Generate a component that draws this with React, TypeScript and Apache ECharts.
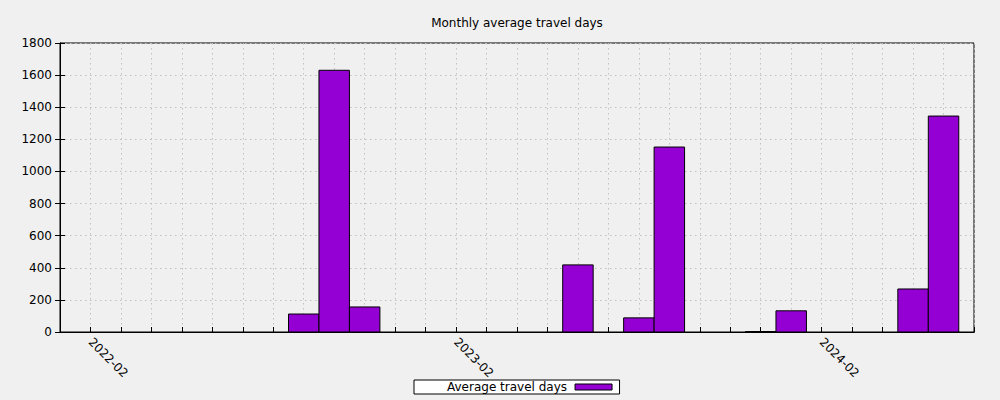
import React, { useEffect, useRef } from "react";
import * as echarts from "echarts";

const months = ["2022-09", "2022-10", "2022-11", "2023-06", "2023-08", "2023-09", "2023-12", "2024-01", "2024-05", "2024-06"];
const values = [112, 1630, 156, 418, 88, 1152, 3, 132, 268, 1345];
const tickLabels = ["2022-02", "2023-02", "2024-02"];
const axisStart = "2022-01";
const axisEnd = "2024-07";
const seriesName = "Average travel days";
const titleText = "Monthly average travel days";

const FONT = "DejaVu Sans";
const BASE_YEAR = 2022;

function monthIndex(m: string): number {
  const [y, mo] = m.split("-").map(Number);
  return (y - BASE_YEAR) * 12 + (mo - 1);
}
function indexToMonth(i: number): string {
  const y = BASE_YEAR + Math.floor(i / 12);
  const mo = (i % 12) + 1;
  return `${y}-${mo < 10 ? "0" + mo : mo}`;
}

export default function App() {
  const ref = useRef<HTMLDivElement>(null);
  useEffect(() => {
    document.body.style.margin = "0";
    const chart = echarts.init(ref.current!, undefined, { renderer: "svg" });
    const data = months.map((m, i) => [monthIndex(m), values[i]]);
    const gridLine = { show: true, lineStyle: { color: "#c0c0c0", type: [1.5, 3.5] as any, width: 1 } };
    chart.setOption({
      animation: false,
      backgroundColor: "#f0f0f0",
      textStyle: { fontFamily: FONT },
      title: {
        text: titleText,
        left: 517,
        textAlign: "center",
        top: 17,
        padding: 0,
        textStyle: { fontSize: 12, fontWeight: "normal", color: "#000", fontFamily: FONT },
      },
      grid: {
        left: 60,
        right: 26,
        top: 43,
        bottom: 68,
        show: true,
        borderColor: "#000",
        borderWidth: 1,
        backgroundColor: "transparent",
      },
      legend: {
        data: [{ name: seriesName, icon: "rect" }],
        align: "right",
        left: 414,
        top: 380,
        padding: [1, 7, 1, 33],
        backgroundColor: "#ffffff",
        borderColor: "#000",
        borderWidth: 1,
        borderRadius: 0,
        itemWidth: 37,
        itemHeight: 6,
        itemGap: 0,
        itemStyle: { color: "#9400d3", borderColor: "#000", borderWidth: 1 },
        textStyle: { fontSize: 12, color: "#000", fontFamily: FONT, padding: [0, 3, 0, 0] },
      },
      xAxis: [
        {
          type: "value",
          min: monthIndex(axisStart),
          max: monthIndex(axisEnd),
          interval: 1,
          axisLine: { show: true, lineStyle: { color: "#000", width: 1 } },
          axisTick: { show: true, inside: true, length: 5, lineStyle: { color: "#000" } },
          axisLabel: {
            show: true,
            rotate: -45,
            margin: 8,
            fontSize: 12,
            color: "#000",
            fontFamily: FONT,
            showMinLabel: true,
            showMaxLabel: true,
            hideOverlap: false,
            formatter: (v: number) => {
              const s = indexToMonth(Math.round(v));
              return tickLabels.includes(s) ? s : "";
            },
          },
          splitLine: gridLine,
        },
        {
          type: "value",
          position: "top",
          min: monthIndex(axisStart),
          max: monthIndex(axisEnd),
          interval: 1,
          axisLine: { show: true, lineStyle: { color: "#000", width: 1 } },
          axisTick: { show: false },
          axisLabel: { show: false },
          splitLine: { show: false },
        },
      ],
      yAxis: [
        {
          type: "value",
          min: 0,
          max: 1800,
          interval: 200,
          axisLine: { show: true, lineStyle: { color: "#000", width: 1 } },
          axisTick: { show: true, inside: true, length: 5, lineStyle: { color: "#000" } },
          axisLabel: {
            fontSize: 12,
            color: "#000",
            fontFamily: FONT,
            margin: 8,
            formatter: (v: number) => String(v),
          },
          splitLine: gridLine,
        },
        {
          type: "value",
          position: "right",
          min: 0,
          max: 1800,
          interval: 200,
          axisLine: { show: true, lineStyle: { color: "#000", width: 1 } },
          axisTick: { show: true, inside: true, length: 5, lineStyle: { color: "#000" } },
          axisLabel: { show: false },
          splitLine: { show: false },
        },
      ],
      series: [
        {
          name: seriesName,
          type: "custom",
          xAxisIndex: 0,
          yAxisIndex: 0,
          itemStyle: { color: "#9400d3", borderColor: "#000", borderWidth: 1 },
          data,
          renderItem: (params: any, api: any) => {
            const x = api.value(0);
            const y = api.value(1);
            const tl = api.coord([x - 0.5, y]);
            const br = api.coord([x + 0.5, 0]);
            return {
              type: "rect",
              shape: { x: tl[0], y: tl[1], width: br[0] - tl[0], height: br[1] - tl[1] },
              style: { fill: "#9400d3", stroke: "#000", lineWidth: 1 },
            };
          },
        },
      ],
    });
    return () => chart.dispose();
  }, []);
  return (
    <div
      ref={ref}
      style={{ position: "absolute", left: 0, top: 0, width: 1000, height: 400 }}
    />
  );
}
